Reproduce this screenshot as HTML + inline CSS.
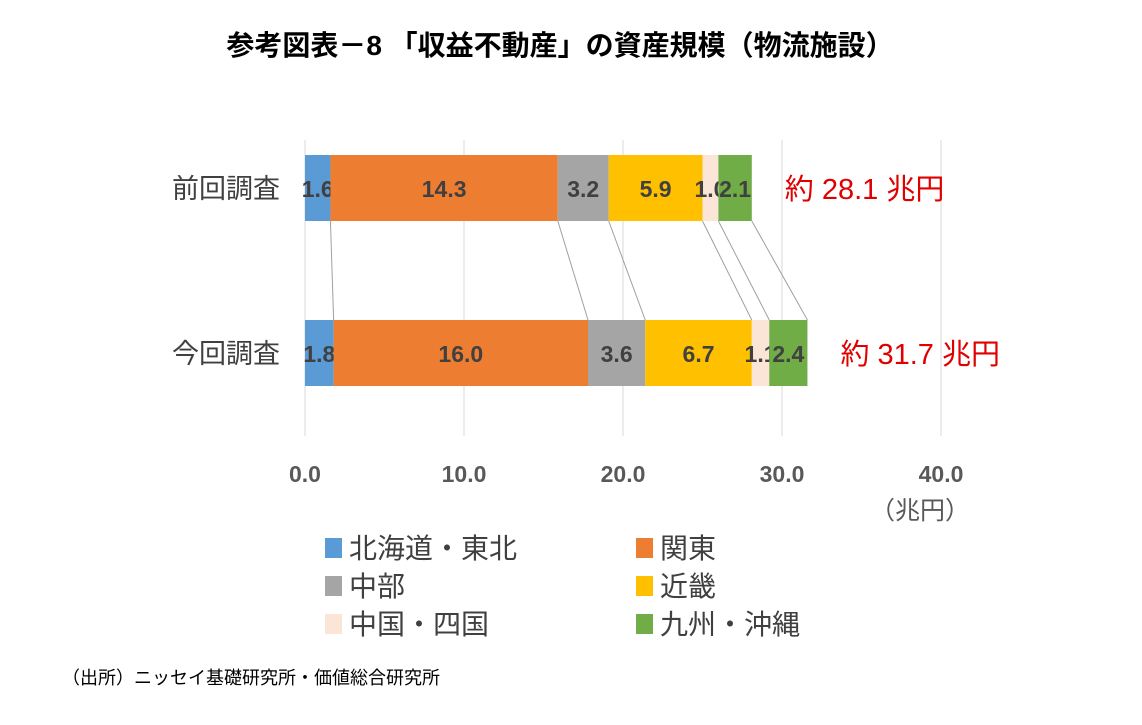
<!DOCTYPE html>
<html><head><meta charset="utf-8"><style>
body{margin:0;background:#fff;}
svg text{font-family:"Liberation Sans","Noto Sans CJK JP",sans-serif;}
</style></head><body>
<svg width="1142" height="720" viewBox="0 0 1142 720">
<text x="560" y="55" text-anchor="middle" font-size="28" font-weight="bold" fill="#000">参考図表－8 「収益不動産」の資産規模（物流施設）</text>
<g id="grid"></g>
<g id="links"></g>
<g id="bars"></g>
<g id="ticks"></g>
<text x="920" y="519" text-anchor="middle" font-size="25" fill="#595959">（兆円）</text>
<g id="legend"></g>
<text x="62" y="684" font-size="18" fill="#000">（出所）ニッセイ基礎研究所・価値総合研究所</text>
</svg>
<script>
const categories=["前回調査","今回調査"];
const regions=["北海道・東北","関東","中部","近畿","中国・四国","九州・沖縄"];
const colors=["#5B9BD5","#ED7D31","#A5A5A5","#FFC000","#FBE5D6","#70AD47"];
const prevValues=[1.6,14.3,3.2,5.9,1.0,2.1];
const currValues=[1.8,16.0,3.6,6.7,1.1,2.4];
const totals=["約 28.1 兆円","約 31.7 兆円"];
const ticks=[0,10,20,30,40];
const NS="http://www.w3.org/2000/svg";
const x0=305, pxPer=15.9;
const xs=v=>x0+v*pxPer;
const rowTop=[155,320], barH=66;
function mk(tag,attrs,parent,txt){const e=document.createElementNS(NS,tag);for(const k in attrs)e.setAttribute(k,attrs[k]);if(txt!==undefined)e.textContent=txt;document.getElementById(parent).appendChild(e);return e;}
ticks.forEach(t=>{
 const l=mk('line',{x1:xs(t),x2:xs(t),y1:140,y2:436,stroke:'#d9d9d9','stroke-width':1},'grid');
 
 
 const tx=mk('text',{x:xs(t),y:482,'text-anchor':'middle','font-size':23,'font-weight':'bold',fill:'#595959'},'ticks',t.toFixed(1));
 
 
});
const series=[prevValues,currValues];
const cums=series.map(s=>{let c=0;return s.map(v=>(c+=v));});
for(let i=0;i<6;i++){
 const ln=mk('line',{x1:xs(cums[0][i]),y1:rowTop[0]+barH,x2:xs(cums[1][i]),y2:rowTop[1],stroke:'#a0a0a0','stroke-width':1},'links');
 
 
}
series.forEach((s,r)=>{
 let c=0;
 s.forEach((v,i)=>{
  const r1=mk('rect',{x:xs(c),y:rowTop[r],width:v*pxPer,height:barH,fill:colors[i]},'bars');
  
  
  const lbl=mk('text',{x:xs(c+v/2),y:rowTop[r]+barH/2+9,'text-anchor':'middle','font-size':23,'font-weight':'bold',fill:'#404040'},'bars',v.toFixed(1));
  
  
  c+=v;
 });
 const cl=mk('text',{x:280,y:rowTop[r]+barH/2+10,'text-anchor':'end','font-size':27,fill:'#404040'},'bars',categories[r]);
 
 
 const tl=mk('text',{x:xs(c)+33,y:rowTop[r]+barH/2+11,'font-size':29,fill:'#e00000','font-family':'"Liberation Serif","Noto Serif CJK SC",serif'},'bars',totals[r]);
 
 
});
regions.forEach((n,i)=>{
 const col=i%2,row=Math.floor(i/2);
 const x=col?636:325, y=547+row*38;
 const sq=mk('rect',{x:x,y:y-9,width:17,height:20,fill:colors[i]},'legend');
 
 
 const t=mk('text',{x:x+24,y:y+11,'font-size':28,fill:'#404040'},'legend',n);
 
 
});
</script>
</body></html>
